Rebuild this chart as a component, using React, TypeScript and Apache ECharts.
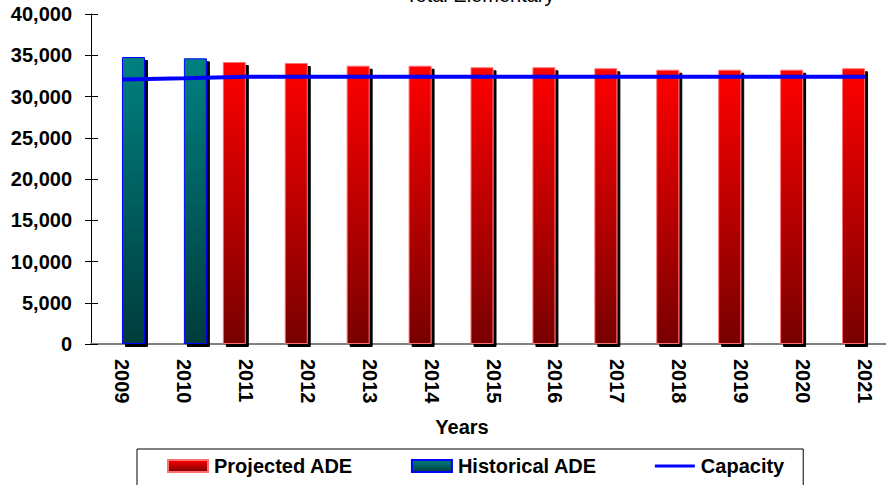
import React, { useEffect, useRef } from "react";
import * as echarts from "echarts";

const years = ["2009", "2010", "2011", "2012", "2013", "2014", "2015", "2016", "2017", "2018", "2019", "2020", "2021"];
const projectedADE = [null, null, 34180, 34060, 33730, 33730, 33540, 33540, 33420, 33250, 33250, 33250, 33420];
const historicalADE = [34790, 34630, null, null, null, null, null, null, null, null, null, null, null];
const capacity = [32050, 32200, 32400, 32400, 32400, 32400, 32400, 32400, 32400, 32400, 32400, 32400, 32400];

const FONT = "'Liberation Sans', Arial, sans-serif";
const FS = 20;

export default function App() {
  const ref = useRef<HTMLDivElement>(null);
  useEffect(() => {
    if (!ref.current) return;
    document.body.style.overflow = "hidden";
    const chart = echarts.init(ref.current, null, { renderer: "svg" });
    const redGrad = new echarts.graphic.LinearGradient(0, 0, 0, 1, [
      { offset: 0, color: "#ff0000" },
      { offset: 1, color: "#780000" },
    ]);
    const tealGrad = new echarts.graphic.LinearGradient(0, 0, 0, 1, [
      { offset: 0, color: "#008080" },
      { offset: 1, color: "#003c3c" },
    ]);
    chart.setOption({
      animation: false,
      backgroundColor: "#ffffff",
      textStyle: { fontFamily: FONT },
      grid: { left: 91, right: 4, top: 14, bottom: 141, containLabel: false },
      graphic: [
        {
          type: "text",
          x: 480,
          y: 5,
          style: { text: "Total Elementary", font: `20px ${FONT}`, fill: "#000", textAlign: "center", textVerticalAlign: "bottom" },
        },
        {
          type: "text",
          x: 462,
          y: 427,
          style: { text: "Years", font: `bold ${FS}px ${FONT}`, fill: "#000", textAlign: "center", textVerticalAlign: "middle" },
        },
      ],
      legend: {
        left: 137,
        top: 449,
        itemWidth: 40,
        itemHeight: 12,
        itemGap: 58,
        padding: [7, 19, 20, 30],
        borderColor: "#000",
        borderWidth: 1,
        textStyle: { fontFamily: FONT, fontWeight: "bold", fontSize: FS, color: "#000", padding: [0, 0, 0, 1] },
        data: [
          { name: "Projected ADE", icon: "rect" },
          { name: "Historical ADE", icon: "rect" },
          { name: "Capacity", icon: "path://M0,0 M0,4.5 L40,4.5 L40,7.5 L0,7.5 Z M40,12" },
        ],
      },
      xAxis: [
        {
          type: "category",
          data: years,
          axisLine: { lineStyle: { color: "#000", width: 1 } },
          axisTick: { show: false },
          axisLabel: {
            rotate: -90,
            margin: 15,
            color: "#000",
            fontWeight: "bold",
            fontSize: FS,
            fontFamily: FONT,
          },
        },
        {
          type: "category",
          data: years,
          position: "top",
          axisLine: { lineStyle: { color: "#808080", width: 2 } },
          axisTick: { show: false },
          axisLabel: { show: false },
        },
      ],
      yAxis: [
        {
          type: "value",
          min: 0,
          max: 40000,
          interval: 5000,
          axisLine: { show: true, lineStyle: { color: "#000", width: 1 } },
          axisTick: { show: true, length: 6, lineStyle: { color: "#000" } },
          splitLine: { show: false },
          axisLabel: {
            margin: 19,
            color: "#000",
            fontWeight: "bold",
            fontSize: FS,
            fontFamily: FONT,
            formatter: (v: number) => v.toLocaleString("en-US"),
          },
        },
        {
          type: "value",
          min: 0,
          max: 40000,
          interval: 5000,
          position: "left",
          axisLine: { show: false },
          axisTick: { show: true, inside: true, length: 7, lineStyle: { color: "#000" } },
          splitLine: { show: false },
          axisLabel: { show: false },
        },
      ],
      series: [
        {
          name: "Projected ADE",
          type: "bar",
          data: projectedADE,
          barWidth: 23,
          barGap: "0%",
          itemStyle: {
            color: redGrad,
            borderColor: "#ff7070",
            borderWidth: 1,
            shadowColor: "#000",
            shadowOffsetX: 3,
            shadowOffsetY: 3,
            shadowBlur: 0,
          },
        },
        {
          name: "Historical ADE",
          type: "bar",
          data: historicalADE,
          barWidth: 23,
          barGap: "0%",
          itemStyle: {
            color: tealGrad,
            borderColor: "#0000ff",
            borderWidth: 1,
            shadowColor: "#000",
            shadowOffsetX: 3,
            shadowOffsetY: 3,
            shadowBlur: 0,
          },
        },
        {
          name: "Capacity",
          type: "line",
          data: capacity,
          symbol: "none",
          z: 5,
          lineStyle: { color: "#0000ff", width: 4 },
          itemStyle: { color: "#0000ff" },
        },
      ],
    });
    return () => chart.dispose();
  }, []);
  return <div ref={ref} style={{ position: "fixed", left: 0, top: 0, width: 900, height: 485 }} />;
}
